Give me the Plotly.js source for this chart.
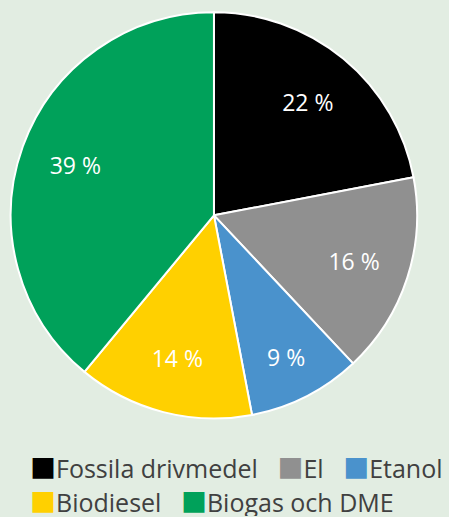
<!DOCTYPE html>
<html>
<head>
<meta charset="utf-8">
<script src="https://cdn.plot.ly/plotly-3.0.1.min.js"></script>
<style>body{margin:0;background:#e2ede2;}</style>
</head>
<body>
<div id="chart" style="width:449px;height:517px;"></div>
<script>
const labels = ['Fossila drivmedel', 'El', 'Etanol', 'Biodiesel', 'Biogas och DME'];
const shares = [22, 16, 9, 14, 39];
const colors = ['#000000', '#909090', '#4a92cc', '#ffd000', '#00a15a'];
const legendRows = [[0, 1, 2], [3, 4]];

const pieDomain = { x: [0.024, 0.929], y: [0.19, 0.977] };

// filled slices
const slices = {
  type: 'pie',
  labels: labels,
  values: shares,
  textinfo: 'none',
  sort: false,
  direction: 'clockwise',
  rotation: 0,
  marker: { colors: colors, line: { color: '#ffffff', width: 2 } },
  domain: pieDomain,
  showlegend: false,
  hoverinfo: 'none'
};

// transparent ring on top, only to push the percent labels outward like the original
const percentLabels = {
  type: 'pie',
  labels: labels,
  values: shares,
  hole: 0.45,
  text: shares.map(v => v + ' %'),
  textinfo: 'text',
  textposition: 'inside',
  insidetextorientation: 'horizontal',
  sort: false,
  direction: 'clockwise',
  rotation: 0,
  marker: { colors: shares.map(() => 'rgba(0,0,0,0)'), line: { width: 0 } },
  textfont: { family: 'Open Sans, sans-serif', size: 23, color: '#ffffff' },
  domain: pieDomain,
  showlegend: false,
  hoverinfo: 'none'
};

// legend laid out in two rows as in the source figure
const legendText = row => row.map(i =>
  '<span style="color:' + colors[i] + ';font-family:\'Noto Sans CJK JP\';font-size:26px">\u25A0</span>' + labels[i]
).join('\u00A0\u00A0\u00A0');

const annotations = legendRows.map((row, r) => ({
  xref: 'paper', yref: 'paper',
  x: 0.062, y: r === 0 ? 0.0986 : 0.0329,
  xanchor: 'left', yanchor: 'middle',
  height: 32,
  showarrow: false,
  text: legendText(row),
  font: { family: 'Open Sans, sans-serif', size: 25, color: '#404040' }
}));

const layout = {
  width: 449,
  height: 517,
  margin: { l: 0, r: 0, t: 0, b: 0 },
  paper_bgcolor: '#e2ede2',
  plot_bgcolor: '#e2ede2',
  showlegend: false,
  annotations: annotations
};

Plotly.newPlot('chart', [slices, percentLabels], layout, { displayModeBar: false, staticPlot: true });
</script>
</body>
</html>
